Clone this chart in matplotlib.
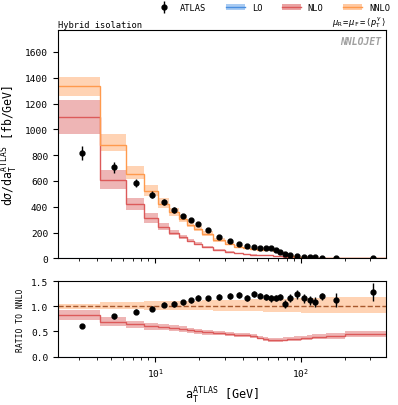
import numpy as np
import matplotlib
matplotlib.use("Agg")
import matplotlib.pyplot as plt
from matplotlib.patches import Patch
from matplotlib.lines import Line2D

plt.rcParams["font.family"] = "DejaVu Sans Mono"
plt.rcParams["mathtext.fontset"] = "custom"
plt.rcParams["mathtext.rm"] = "DejaVu Sans Mono"
plt.rcParams["mathtext.it"] = "DejaVu Sans Mono:italic"
plt.rcParams["mathtext.bf"] = "DejaVu Sans Mono:bold"

# ---- data ----
edges = [2.1, 4.2, 6.3, 8.4, 10.5, 12.5, 14.5, 16.5, 18.5, 21, 25, 30, 35, 40, 45,
         50, 55, 60, 65, 70, 75, 80, 90, 100, 110, 120, 130, 150, 200, 430]
x_data = [3.15, 5.25, 7.35, 9.45, 11.5, 13.5, 15.5, 17.5, 19.75, 23, 27.5, 32.5, 37.5,
          42.5, 47.5, 52.5, 57.5, 62.5, 67.5, 72.5, 77.5, 85, 95, 105, 115, 125, 140, 175, 315]

# NNLO central (fb/GeV)
nnlo = [1336, 881, 655, 519, 423, 356, 303, 262, 228, 187, 140, 113, 91, 79, 69,
        66, 67, 71, 55, 43, 31, 20, 12, 8.6, 8.0, 8.0, 5.0, 3.6, 1.6]
nnlo_up = [0.05, 0.09, 0.09, 0.10, 0.10, 0.10, 0.11, 0.11, 0.11, 0.12, 0.12, 0.13, 0.13, 0.13,
           0.14, 0.14, 0.14, 0.15, 0.15, 0.15, 0.15, 0.16, 0.16, 0.16, 0.17, 0.17, 0.17, 0.18, 0.18]
nnlo_dn = [0.06, 0.06, 0.06, 0.07, 0.07, 0.07, 0.07, 0.08, 0.08, 0.08, 0.09, 0.09, 0.09, 0.10,
           0.10, 0.10, 0.11, 0.11, 0.11, 0.11, 0.12, 0.12, 0.12, 0.13, 0.13, 0.13, 0.13, 0.14, 0.14]

# NLO relative to NNLO
nlo_ratio = [0.82, 0.69, 0.64, 0.60, 0.58, 0.56, 0.54, 0.52, 0.50, 0.48, 0.47, 0.45, 0.43, 0.42,
             0.41, 0.38, 0.35, 0.33, 0.33, 0.33, 0.34, 0.35, 0.36, 0.37, 0.38, 0.39, 0.40, 0.41, 0.45]
nlo_up = [0.12, 0.13, 0.12, 0.12, 0.11, 0.11, 0.11, 0.10, 0.10, 0.10, 0.10, 0.10, 0.10, 0.10,
          0.10, 0.10, 0.11, 0.12, 0.12, 0.12, 0.12, 0.12, 0.12, 0.12, 0.13, 0.13, 0.13, 0.13, 0.14]
nlo_dn = [0.12, 0.12, 0.11, 0.11, 0.10, 0.10, 0.10, 0.10, 0.10, 0.10, 0.09, 0.09, 0.09, 0.09,
          0.09, 0.10, 0.11, 0.11, 0.11, 0.11, 0.11, 0.11, 0.11, 0.12, 0.12, 0.12, 0.12, 0.13, 0.14]

# LO vanishes for this observable
lo = [0.0] * 29

# ATLAS data relative to NNLO
data_ratio = [0.61, 0.80, 0.89, 0.95, 1.03, 1.05, 1.08, 1.12, 1.16, 1.16, 1.18, 1.20, 1.22, 1.17,
              1.24, 1.21, 1.19, 1.16, 1.16, 1.18, 1.05, 1.16, 1.24, 1.16, 1.12, 1.08, 1.20, 1.12, 1.29]
data_ratio_err = [0.04, 0.05, 0.05, 0.05, 0.05, 0.06, 0.05, 0.05, 0.06, 0.05, 0.06, 0.06, 0.06, 0.06,
                  0.06, 0.05, 0.06, 0.07, 0.06, 0.06, 0.08, 0.08, 0.09, 0.09, 0.09, 0.10, 0.07, 0.14, 0.18]

c_lo, c_lo_band = "#4a8fe0", "#a9cbf2"
c_nlo, c_nlo_band = "#dc5a5a", "#eaa3a3"
c_nnlo, c_nnlo_band = "#ff9a4d", "#ffc9a1"

nnlo_a = np.array(nnlo)
nlo_a = nnlo_a * np.array(nlo_ratio)
data_a = nnlo_a * np.array(data_ratio)
data_err = nnlo_a * np.array(data_ratio_err)

fig = plt.figure(figsize=(3.98, 4.06), dpi=100)
ax = fig.add_axes([0.1457, 0.3613, 0.824, 0.5623])
rax = fig.add_axes([0.1457, 0.119, 0.824, 0.1864], sharex=ax)

# ---- main panel ----
ax.stairs(nnlo_a * (1 + np.array(nnlo_up)), edges, baseline=nnlo_a * (1 - np.array(nnlo_dn)),
          fill=True, color=c_nnlo_band, alpha=0.8, lw=0)
ax.stairs(nlo_a * (1 + np.array(nlo_up)), edges, baseline=nlo_a * (1 - np.array(nlo_dn)),
          fill=True, color=c_nlo_band, alpha=0.8, lw=0)
ax.stairs(lo, edges, baseline=None, color=c_lo, lw=0.8, alpha=0.6)
ax.stairs(nlo_a, edges, baseline=None, color=c_nlo, lw=1.0)
ax.stairs(nnlo_a, edges, baseline=None, color=c_nnlo, lw=1.0)
ax.errorbar(x_data, data_a, yerr=data_err, fmt="o", color="black", ms=3.5, elinewidth=1, capsize=0)

ax.set_xscale("log")
ax.set_xlim(2.15, 385)
ax.set_ylim(0, 1770)
ax.set_yticks(range(0, 1601, 200))
ax.set_ylabel(r"d$\sigma$/d$\mathrm{a}_\mathrm{T}^\mathrm{ATLAS}$ [fb/GeV]", fontsize=8.3)
ax.tick_params(labelsize=6.8, labelbottom=False)
ax.text(0.985, 0.975, "NNLOJET", transform=ax.transAxes, ha="right", va="top",
        fontsize=7, style="italic", weight="bold", color="#a0a0a0")
ax.text(0.0, 1.005, "Hybrid isolation", transform=ax.transAxes, ha="left", va="bottom", fontsize=6.3)
ax.text(1.0, 1.005, r"$\mu_\mathrm{R}=\mu_\mathrm{F}=\langle p_\mathrm{T}^\gamma\rangle$",
        transform=ax.transAxes, ha="right", va="bottom", fontsize=6.3)

# ---- ratio panel ----
ones = np.ones(len(nnlo))
rax.stairs(ones + np.array(nnlo_up), edges, baseline=ones - np.array(nnlo_dn),
           fill=True, color=c_nnlo_band, alpha=0.8, lw=0)
nr = np.array(nlo_ratio)
rax.stairs(nr * (1 + np.array(nlo_up)), edges, baseline=nr * (1 - np.array(nlo_dn)),
           fill=True, color=c_nlo_band, alpha=0.8, lw=0)
rax.stairs(lo, edges, baseline=None, color=c_lo, lw=0.8, alpha=0.6)
rax.stairs(nr, edges, baseline=None, color=c_nlo, lw=1.0)
rax.axhline(1.0, color="#a8582c", lw=1.0, ls="--")
rax.errorbar(x_data, data_ratio, yerr=data_ratio_err, fmt="o", color="black", ms=3.5,
             elinewidth=1, capsize=0)
rax.set_ylim(0, 1.5)
rax.set_yticks([0.0, 0.5, 1.0, 1.5])
rax.set_ylabel("RATIO TO NNLO", fontsize=5.8)
rax.set_xlabel(r"$\mathrm{a}_\mathrm{T}^\mathrm{ATLAS}$ [GeV]", fontsize=8.5)
rax.tick_params(labelsize=6.8)

# ---- legend ----
h_data = Line2D([], [], color="black", marker="o", ms=3.5, lw=0)
h_err = Line2D([], [], color="black", marker="|", ms=8, lw=0)
handles = [
    (h_err, h_data),
    (Patch(color=c_lo_band, lw=0), Line2D([], [], color=c_lo, lw=1)),
    (Patch(color=c_nlo_band, lw=0), Line2D([], [], color=c_nlo, lw=1)),
    (Patch(color=c_nnlo_band, lw=0), Line2D([], [], color=c_nnlo, lw=1)),
]
fig.legend(handles, ["ATLAS", "LO", "NLO", "NNLO"], loc="upper right",
           bbox_to_anchor=(1.0, 1.01), ncol=4, frameon=False, fontsize=6.3,
           handlelength=2.2, columnspacing=2.2, handletextpad=0.8)

fig.savefig("out.png", dpi=100)
